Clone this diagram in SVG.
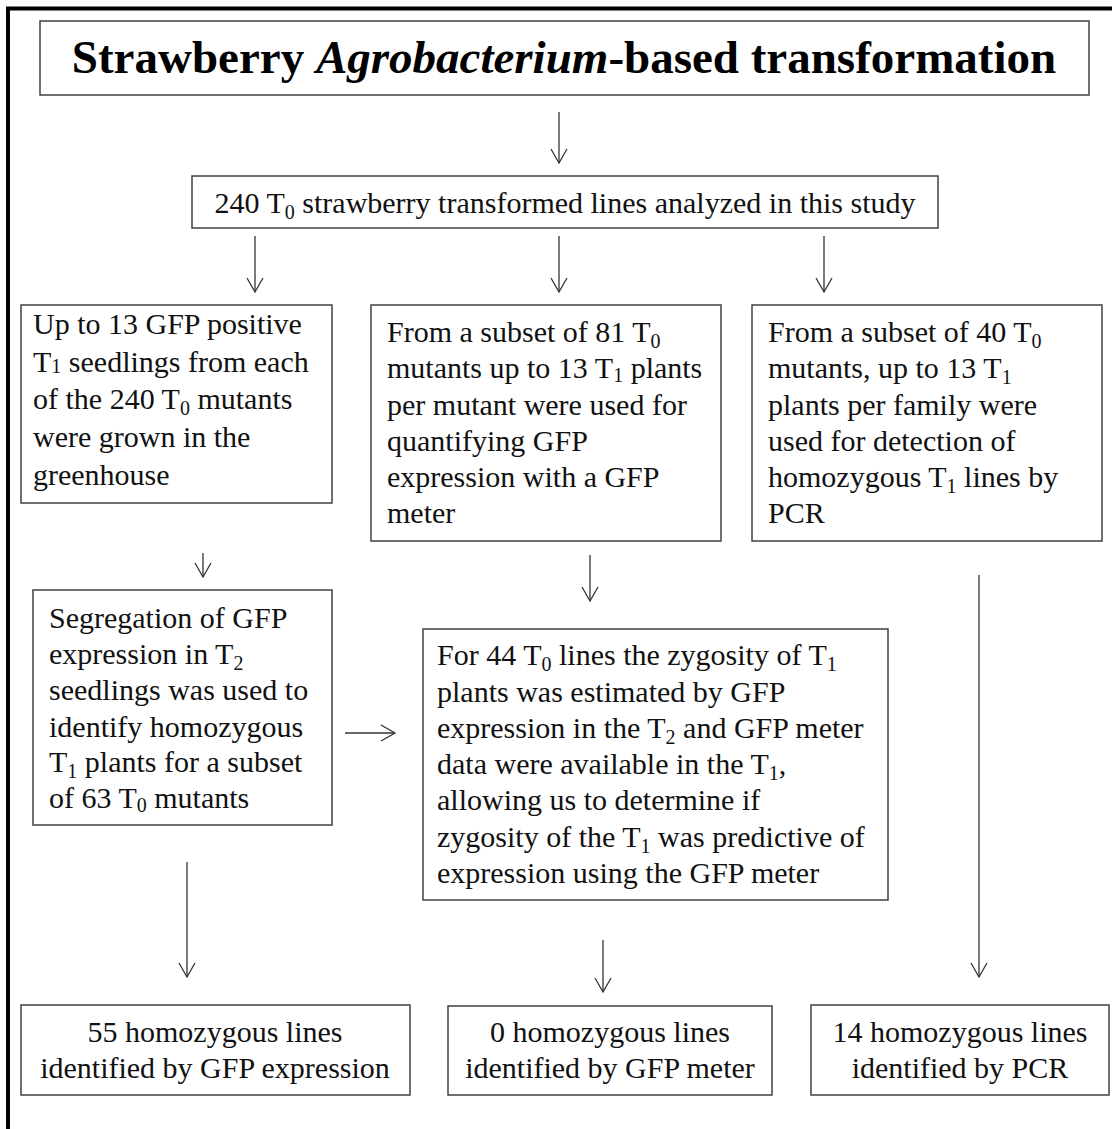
<svg xmlns="http://www.w3.org/2000/svg" width="1112" height="1129" viewBox="0 0 1112 1129">
<defs>
<style>
.box{fill:#fff;stroke:#404040;stroke-width:1.5}
.t{font-family:"Liberation Serif","Times New Roman",serif;font-size:30px;fill:#111}
.c{text-anchor:middle}
.title{font-family:"Liberation Serif","Times New Roman",serif;font-size:47px;font-weight:bold;fill:#000;text-anchor:middle}
.s{font-size:20px}
.conn{stroke:#333;stroke-width:1.3;fill:none}
</style>
<marker id="ah" markerWidth="20" markerHeight="20" refX="15" refY="9" orient="auto" markerUnits="userSpaceOnUse">
<path d="M1,1 L15,9 L1,17" fill="none" stroke="#333" stroke-width="1.3"/>
</marker>
</defs>
<rect width="1112" height="1129" fill="#fff"/>
<path d="M8,1129 V8.5 H1112" fill="none" stroke="#000" stroke-width="4"/>

<g id="n-title">
<rect class="box" x="40" y="21" width="1049" height="74"/>
<text class="title" x="564" y="73">Strawberry <tspan font-style="italic">Agrobacterium</tspan>-based transformation</text>
</g>

<g id="n-240">
<rect class="box" x="192" y="176" width="746" height="52"/>
<text class="t c" x="565" y="213">240 T<tspan class="s" dy="6">0</tspan><tspan dy="-6"> strawberry transformed lines analyzed in this study</tspan></text>
</g>

<g id="n-gfp-positive">
<rect class="box" x="21" y="305" width="311" height="198"/>
<text class="t" x="33" y="334">Up to 13 GFP positive</text>
<text class="t" x="33" y="372">T<tspan class="s" dy="1">1</tspan><tspan dy="-1"> seedlings from each</tspan></text>
<text class="t" x="33" y="409">of the 240 T<tspan class="s" dy="6">0</tspan><tspan dy="-6"> mutants</tspan></text>
<text class="t" x="33" y="447">were grown in the</text>
<text class="t" x="33" y="485">greenhouse</text>
</g>

<g id="n-subset81">
<rect class="box" x="371" y="305" width="350" height="236"/>
<text class="t" x="387" y="342">From a subset of 81 T<tspan class="s" dy="6">0</tspan></text>
<text class="t" x="387" y="378">mutants up to 13 T<tspan class="s" dy="4">1</tspan><tspan dy="-4"> plants</tspan></text>
<text class="t" x="387" y="415">per mutant were used for</text>
<text class="t" x="387" y="451">quantifying GFP</text>
<text class="t" x="387" y="487">expression with a GFP</text>
<text class="t" x="387" y="523">meter</text>
</g>

<g id="n-subset40">
<rect class="box" x="752" y="305" width="350" height="236"/>
<text class="t" x="768" y="342">From a subset of 40 T<tspan class="s" dy="6">0</tspan></text>
<text class="t" x="768" y="378">mutants, up to 13 T<tspan class="s" dy="6">1</tspan></text>
<text class="t" x="768" y="415">plants per family were</text>
<text class="t" x="768" y="451">used for detection of</text>
<text class="t" x="768" y="487">homozygous T<tspan class="s" dy="6">1</tspan><tspan dy="-6"> lines by</tspan></text>
<text class="t" x="768" y="523">PCR</text>
</g>

<g id="n-segregation">
<rect class="box" x="33" y="590" width="299" height="235"/>
<text class="t" x="49" y="628">Segregation of GFP</text>
<text class="t" x="49" y="664">expression in T<tspan class="s" dy="6">2</tspan></text>
<text class="t" x="49" y="700">seedlings was used to</text>
<text class="t" x="49" y="737">identify homozygous</text>
<text class="t" x="49" y="772">T<tspan class="s" dy="6">1</tspan><tspan dy="-6"> plants for a subset</tspan></text>
<text class="t" x="49" y="808">of 63 T<tspan class="s" dy="4">0</tspan><tspan dy="-4"> mutants</tspan></text>
</g>

<g id="n-zygosity">
<rect class="box" x="423" y="629" width="465" height="271"/>
<text class="t" x="437" y="665">For 44 T<tspan class="s" dy="6">0</tspan><tspan dy="-6"> lines the zygosity of T</tspan><tspan class="s" dy="6">1</tspan></text>
<text class="t" x="437" y="702">plants was estimated by GFP</text>
<text class="t" x="437" y="738">expression in the T<tspan class="s" dy="6">2</tspan><tspan dy="-6"> and GFP meter</tspan></text>
<text class="t" x="437" y="774">data were available in the T<tspan class="s" dy="6">1</tspan><tspan dy="-6">,</tspan></text>
<text class="t" x="437" y="810">allowing us to determine if</text>
<text class="t" x="437" y="847">zygosity of the T<tspan class="s" dy="6">1</tspan><tspan dy="-6"> was predictive of</tspan></text>
<text class="t" x="437" y="883">expression using the GFP meter</text>
</g>

<g id="n-result-gfp-expression">
<rect class="box" x="21" y="1005" width="389" height="90"/>
<text class="t c" x="215" y="1042">55 homozygous lines</text>
<text class="t c" x="215" y="1078">identified by GFP expression</text>
</g>

<g id="n-result-gfp-meter">
<rect class="box" x="448" y="1006" width="324" height="89"/>
<text class="t c" x="610" y="1042">0 homozygous lines</text>
<text class="t c" x="610" y="1078">identified by GFP meter</text>
</g>

<g id="n-result-pcr">
<rect class="box" x="811" y="1005" width="298" height="90"/>
<text class="t c" x="960" y="1042">14 homozygous lines</text>
<text class="t c" x="960" y="1078">identified by PCR</text>
</g>

<g id="connectors">
<line class="conn" x1="559" y1="112" x2="559" y2="163" marker-end="url(#ah)"/>
<line class="conn" x1="255" y1="236" x2="255" y2="292" marker-end="url(#ah)"/>
<line class="conn" x1="559" y1="236" x2="559" y2="292" marker-end="url(#ah)"/>
<line class="conn" x1="824" y1="236" x2="824" y2="292" marker-end="url(#ah)"/>
<line class="conn" x1="203" y1="553" x2="203" y2="577" marker-end="url(#ah)"/>
<line class="conn" x1="590" y1="555" x2="590" y2="601" marker-end="url(#ah)"/>
<line class="conn" x1="345" y1="733" x2="395" y2="733" marker-end="url(#ah)"/>
<line class="conn" x1="187" y1="862" x2="187" y2="977" marker-end="url(#ah)"/>
<line class="conn" x1="603" y1="940" x2="603" y2="992" marker-end="url(#ah)"/>
<line class="conn" x1="979" y1="575" x2="979" y2="977" marker-end="url(#ah)"/>
</g>
</svg>
